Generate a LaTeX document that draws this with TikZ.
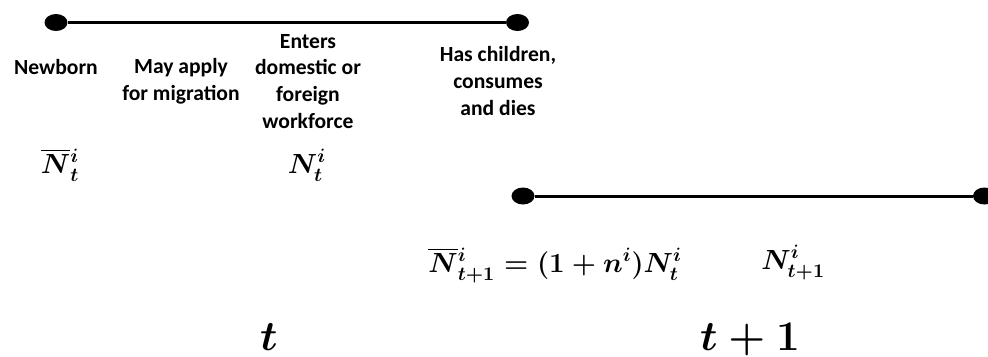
\documentclass[tikz,border=0pt]{standalone}
\usepackage{fix-cm}
\usepackage{amsmath}
\usepackage{fontspec}
\setsansfont{Carlito}
\usepackage{tikz}
\usetikzlibrary{positioning,shapes.geometric}

\begin{document}
\begin{tikzpicture}[x=0.02cm, y=-0.02cm,
    event/.style={ellipse, fill=black, inner sep=0pt, minimum width=0.46cm, minimum height=0.34cm},
    stage/.style={font=\sffamily\bfseries\fontsize{12.3}{15.1}\selectfont, align=center, inner sep=0pt, anchor=base},
    pop/.style={font=\fontsize{15.75}{19}\selectfont\boldmath, inner sep=0pt, anchor=base},
    period/.style={font=\fontsize{24}{28}\selectfont\boldmath, inner sep=0pt, anchor=base}]
  \useasboundingbox (0,0) rectangle (988,356);
  % first period
  \node[event] (born) at (56,22.5) {};
  \node[event] (death) at (517.5,22.5) {};
  \draw[line width=1.7pt] (born) -- (death);
  \node[stage] (newborn) at (56,74) {Newborn};
  \node[stage] (apply) at (181,100) {May apply\\for migration};
  \node[stage] (enter) at (308,128) {Enters\\domestic or\\foreign\\workforce};
  \node[stage] (old) at (498,115) {Has children,\\consumes\\and dies};
  \node[pop] (nbar) at (60,173) {$\overline{N}{}_t^i$};
  \node[pop] (nwork) at (307,173) {$N_t^i$};
  % second period
  \node[event] (born2) at (523,196) {};
  \node[event] (death2) at (984.5,196) {};
  \draw[line width=1.7pt] (born2) -- (death2);
  \node[pop, anchor=base west] (nbar2) at (428,272) {$\overline{N}{}_{t+1}^i = (1+n^i)N_t^i$};
  \node[pop, anchor=base west] (nwork2) at (761,269) {$N_{t+1}^i$};
  % period labels
  \node[period] (per1) at (269,350) {$t$};
  \node[period] (per2) at (750,350) {$t+1$};
\end{tikzpicture}
\end{document}
